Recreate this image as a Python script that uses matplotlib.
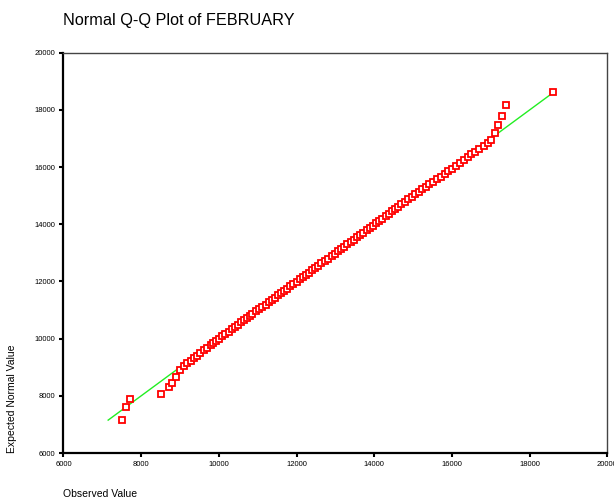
import matplotlib.pyplot as plt

plt.rcParams['font.family'] = ['Liberation Sans', 'DejaVu Sans']

observed = [7500, 7610, 7710, 8510, 8720, 8800, 8900,
            9000, 9100, 9190, 9270, 9360, 9440, 9520, 9610, 9700, 9790,
            9860, 9930, 10010, 10090, 10170, 10250, 10330, 10420, 10500, 10580,
            10650, 10720, 10790, 10860, 10950, 11040, 11120, 11200, 11280, 11360,
            11440, 11520, 11600, 11680, 11760, 11840, 11920, 12000, 12080, 12160,
            12240, 12320, 12400, 12480, 12560, 12640, 12730, 12820, 12900, 12990,
            13070, 13150, 13230, 13310, 13400, 13480, 13560, 13640, 13720, 13800,
            13880, 13960, 14040, 14120, 14200, 14290, 14380, 14460, 14540, 14620,
            14700, 14790, 14880, 14970, 15060, 15150, 15240, 15330, 15420, 15510,
            15610, 15710, 15810, 15910, 16010, 16110, 16200, 16300, 16400, 16500,
            16600, 16700, 16820,
            16920, 17010, 17120, 17190, 17290, 17390, 18600]
expected = [7150, 7610, 7880, 8080, 8320, 8460, 8660,
            8890, 9060, 9150, 9230, 9320, 9410, 9500, 9590, 9680, 9760,
            9830, 9920, 10000, 10080, 10160, 10240, 10330, 10420, 10490, 10570,
            10640, 10710, 10790, 10870, 10950, 11030, 11110, 11190, 11270, 11350,
            11430, 11510, 11590, 11670, 11750, 11830, 11910, 11990, 12070, 12150,
            12230, 12310, 12390, 12470, 12550, 12630, 12720, 12800, 12880, 12970,
            13050, 13130, 13210, 13300, 13380, 13460, 13540, 13620, 13710, 13790,
            13870, 13950, 14030, 14110, 14200, 14280, 14370, 14450, 14530, 14620,
            14700, 14790, 14880, 14960, 15050, 15140, 15230, 15320, 15410, 15490,
            15580, 15670, 15760, 15860, 15950, 16050, 16140, 16240, 16340, 16440,
            16540, 16640, 16730,
            16830, 16950, 17180, 17470, 17800, 18170, 18640]
ticks = [6000, 8000, 10000, 12000, 14000, 16000, 18000, 20000]

fig = plt.figure(figsize=(6.14, 5.01), dpi=100)
ax = fig.add_axes([0.1034, 0.0958, 0.8858, 0.799])

# linea de referencia normal
lo, hi = min(expected), max(expected)
ax.plot([lo, hi], [lo, hi], color='#22ee22', lw=1.0, zorder=2)
ax.plot(observed, expected, ls='none', marker='s', ms=5, mfc='white',
        mec='#ff0000', mew=1.3, zorder=3)

ax.set_xlim(6000, 20000)
ax.set_ylim(6000, 20000)
ax.set_xticks(ticks)
ax.set_yticks(ticks)
ax.tick_params(labelsize=5.5, length=3, width=1.5, direction='out', pad=3)

for s in ['left', 'bottom']:
    ax.spines[s].set_linewidth(1.6)
    ax.spines[s].set_color('black')
for s in ['top', 'right']:
    ax.spines[s].set_linewidth(1.0)
    ax.spines[s].set_color('#444444')

fig.text(63 / 614, 1 - 20 / 501, 'Normal Q-Q Plot of FEBRUARY', fontsize=11.7,
         ha='left', va='center')
fig.text(63 / 614, 1 - 494 / 501, 'Observed Value', fontsize=7.5,
         ha='left', va='center')
fig.text(12 / 614, 48 / 501, 'Expected Normal Value', fontsize=7.5,
         rotation=90, ha='center', va='bottom')

fig.savefig('out.png', dpi=100)
